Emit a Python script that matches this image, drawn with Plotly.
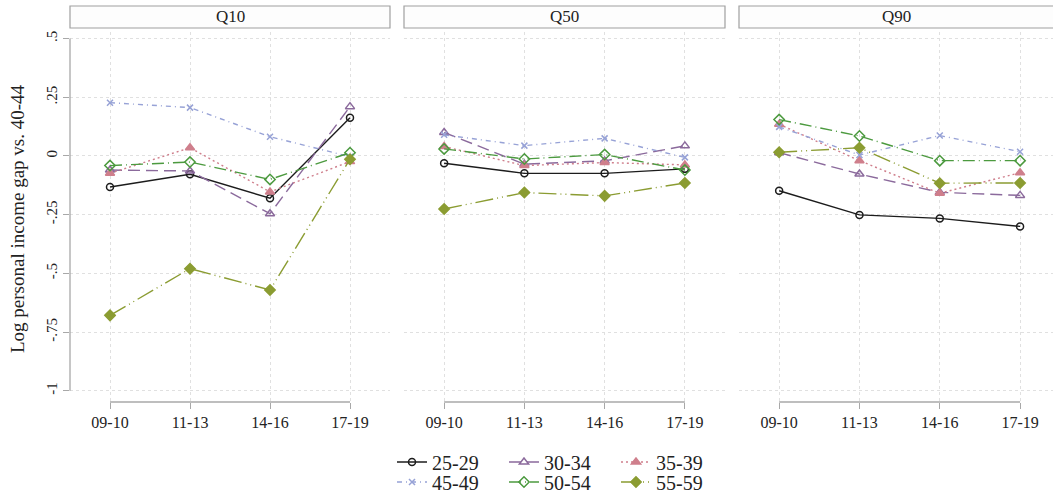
import plotly.graph_objects as go

# ---------------- data ----------------
periods = ["09-10", "11-13", "14-16", "17-19"]
panels = ["Q10", "Q50", "Q90"]
groups = ["25-29", "30-34", "35-39", "45-49", "50-54", "55-59"]

q10_25_29 = [-0.132, -0.078, -0.180, 0.163]
q10_30_34 = [-0.060, -0.064, -0.246, 0.210]
q10_35_39 = [-0.074, 0.035, -0.153, -0.024]
q10_45_49 = [0.227, 0.206, 0.082, -0.003]
q10_50_54 = [-0.041, -0.026, -0.100, 0.014]
q10_55_59 = [-0.679, -0.480, -0.571, -0.014]

q50_25_29 = [-0.031, -0.074, -0.074, -0.055]
q50_30_34 = [0.100, -0.035, -0.021, 0.043]
q50_35_39 = [0.040, -0.041, -0.028, -0.038]
q50_45_49 = [0.090, 0.044, 0.075, -0.006]
q50_50_54 = [0.030, -0.013, 0.006, -0.060]
q50_55_59 = [-0.226, -0.156, -0.170, -0.115]

q90_25_29 = [-0.148, -0.251, -0.266, -0.300]
q90_30_34 = [0.014, -0.077, -0.155, -0.168]
q90_35_39 = [0.135, -0.020, -0.159, -0.071]
q90_45_49 = [0.124, 0.004, 0.087, 0.018]
q90_50_54 = [0.155, 0.085, -0.020, -0.020]
q90_55_59 = [0.016, 0.035, -0.116, -0.115]

y_tickvals = [0.5, 0.25, 0, -0.25, -0.5, -0.75, -1]
y_ticktext = [".5", ".25", "0", "-.25", "-.5", "-.75", "-1"]
y_title = "Log personal income gap vs. 40-44"

panel_data = {
    "Q10": [q10_25_29, q10_30_34, q10_35_39, q10_45_49, q10_50_54, q10_55_59],
    "Q50": [q50_25_29, q50_30_34, q50_35_39, q50_45_49, q50_50_54, q50_55_59],
    "Q90": [q90_25_29, q90_30_34, q90_35_39, q90_45_49, q90_50_54, q90_55_59],
}

# ---------------- styles ----------------
colors = ["#1c1c1c", "#8b6a9c", "#cf7f8c", "#97a2d6", "#4c9a3f", "#8b9c32"]
dashes = ["solid", "12px,6px", "2px,3px", "5px,4px,1px,4px",
          "12px,4px,1px,4px", "18px,4px,1px,4px,1px,4px"]
symbols = ["circle-open", "triangle-up-open", "triangle-up", "x-thin",
           "diamond-open", "diamond"]
msizes = [7, 8, 8, 6, 8, 8]

FONT = "Liberation Serif, Times New Roman, DejaVu Serif, serif"
W, H = 1053, 502
ML, MT, MB = 70, 32, 100
plot_w = W - ML
plot_h = H - MT - MB

def px_x(p):
    return (p - ML) / plot_w

def px_y(p):
    return (H - MB - p) / plot_h

domains = [(px_x(70), px_x(390)), (px_x(404), px_x(725)), (px_x(739), 1.0)]
xranges = [[-0.5, 3.5], [-0.5, 3.5], [-0.5, 3.41]]
yrange = [-1.048, 0.528]

fig = go.Figure()

for pi, pname in enumerate(panels):
    xa = "x" if pi == 0 else f"x{pi+1}"
    ya = "y" if pi == 0 else f"y{pi+1}"
    for gi, g in enumerate(groups):
        fig.add_trace(go.Scatter(
            x=periods, y=panel_data[pname][gi], name=g,
            mode="lines+markers", xaxis=xa, yaxis=ya,
            line=dict(color=colors[gi], width=1.4, dash=dashes[gi]),
            marker=dict(symbol=symbols[gi], size=msizes[gi], color=colors[gi],
                        line=dict(color=colors[gi], width=1.5)),
            showlegend=(pi == 0),
            legend="legend" if gi < 3 else "legend2",
        ))

layout = dict(
    width=W, height=H,
    margin=dict(l=ML, r=0, t=MT, b=MB),
    paper_bgcolor="white", plot_bgcolor="white",
    font=dict(family=FONT, size=16, color="#222222"),
)

grid = dict(showgrid=True, gridcolor="#e0e0e0", gridwidth=1, griddash="dot",
            zeroline=False, showline=False)

for pi in range(3):
    sfx = "" if pi == 0 else str(pi + 1)
    layout[f"xaxis{sfx}"] = dict(
        domain=list(domains[pi]), range=xranges[pi], type="category",
        categoryorder="array", categoryarray=periods,
        ticks="outside", ticklen=6, tickcolor="#a8a8a8", tickwidth=1.3,
        tickfont=dict(size=16, family=FONT), anchor="y" + sfx,
        fixedrange=True, **grid)
    yax = dict(range=yrange, tickvals=y_tickvals, anchor="x" + sfx,
               fixedrange=True, **grid)
    if pi == 0:
        yax.update(ticktext=y_ticktext, ticks="outside", ticklen=6,
                   tickcolor="#a8a8a8", tickwidth=1.3, tickangle=-90,
                   tickfont=dict(size=15, family=FONT))
    else:
        yax.update(showticklabels=False, ticks="", matches="y")
    layout[f"yaxis{sfx}"] = yax

shapes = []
annotations = []
for pi, pname in enumerate(panels):
    sfx = "" if pi == 0 else str(pi + 1)
    # strip header box
    shapes.append(dict(type="rect", xref=f"x{sfx} domain", yref="paper",
                       x0=0, x1=1.0 if pi < 2 else 1.05,
                       y0=px_y(28), y1=px_y(6),
                       line=dict(color="#a0a0a0", width=1.2),
                       fillcolor="#fdfdfd", layer="above"))
    annotations.append(dict(text=pname, xref=f"x{sfx} domain", yref="paper",
                            x=0.5, y=px_y(17), showarrow=False,
                            font=dict(size=17, family=FONT, color="#222222"),
                            xanchor="center", yanchor="middle"))
    # x axis line spanning the categories
    shapes.append(dict(type="line", xref=f"x{sfx}", yref=f"y{sfx} domain",
                       x0=periods[0], x1=periods[-1], y0=0, y1=0,
                       line=dict(color="#a8a8a8", width=1.3)))

# y axis line over the tick range
shapes.append(dict(type="line", xref="x domain", yref="y",
                   x0=0, x1=0, y0=min(y_tickvals), y1=max(y_tickvals),
                   line=dict(color="#a8a8a8", width=1.3)))

annotations.append(dict(text=y_title, xref="paper", yref="paper",
                        x=px_x(18), y=px_y(219), textangle=-90,
                        showarrow=False, xanchor="center", yanchor="middle",
                        font=dict(size=19, family=FONT, color="#222222")))

layout["shapes"] = shapes
layout["annotations"] = annotations

leg_common = dict(orientation="h", xanchor="left", yanchor="middle",
                  font=dict(size=20, family=FONT, color="#222222"),
                  bgcolor="rgba(0,0,0,0)", borderwidth=0,
                  entrywidth=67, entrywidthmode="pixels", itemwidth=30)
layout["legend"] = dict(x=px_x(392), y=px_y(462), **leg_common)
layout["legend2"] = dict(x=px_x(392), y=px_y(482), **leg_common)

fig.update_layout(**layout)
fig.write_html("out.html",
               config={"displayModeBar": False},
               post_script="document.body.style.margin='0';"
                           "document.body.style.overflow='hidden';")
